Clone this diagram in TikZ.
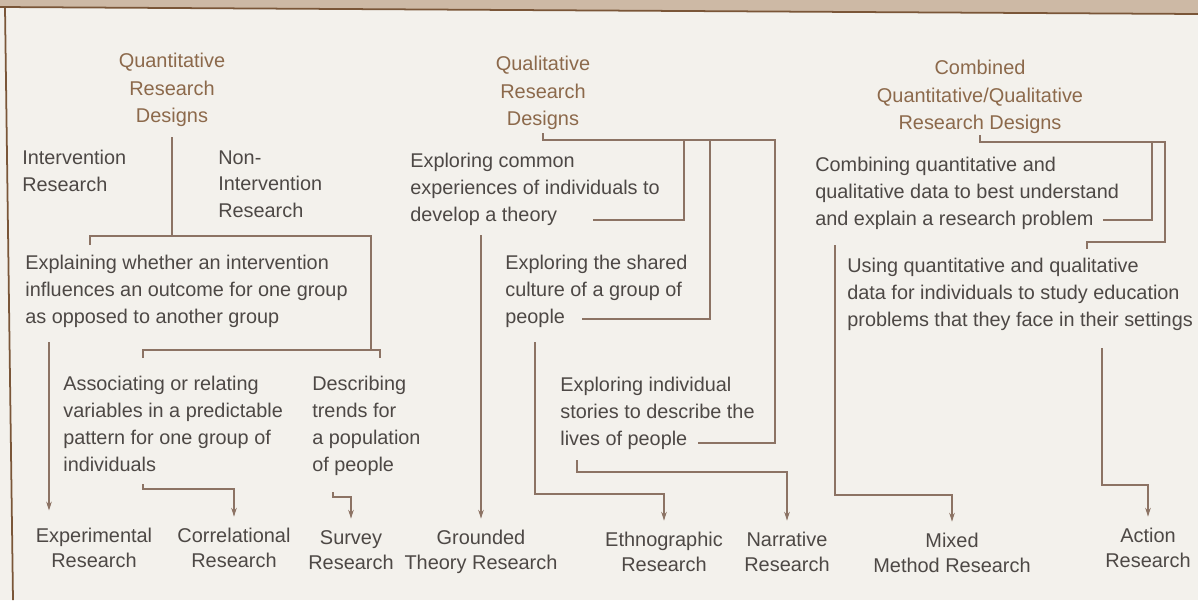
\documentclass[tikz,border=0pt]{standalone}
\usepackage{fontspec}
\setmainfont{Liberation Sans}
\usetikzlibrary{arrows.meta,calc}

\definecolor{paper}{HTML}{F3F1EC}
\definecolor{band}{HTML}{CDB9A5}
\definecolor{rim}{HTML}{7A5638}
\definecolor{headtext}{HTML}{8C694B}
\definecolor{bodytext}{HTML}{4D4845}
\definecolor{rule}{HTML}{8C7364}

\tikzset{
  heading/.style={inner sep=0pt, align=center, anchor=north, text=headtext,
    font=\fontsize{11.35}{15.7}\selectfont},
  item/.style={inner sep=0pt, align=left, anchor=north west, text=bodytext,
    font=\fontsize{11.3}{15.3}\selectfont},
  design/.style={inner sep=0pt, align=center, anchor=north, text=bodytext,
    font=\fontsize{11.35}{14.3}\selectfont},
  link/.style={draw=rule, line width=0.6pt},
  arrowlink/.style={link, -{Stealth[length=5pt,width=3.2pt]}, shorten >=6.5pt},
}

\begin{document}
\begin{tikzpicture}[x=0.02cm, y=-0.02cm]

    \useasboundingbox (0,0) rectangle (1198,600);

    % Paper, top band and left rim
    \fill[paper] (0,0) rectangle (1198,600);
    \fill[band] (0,0) -- (1198,0) -- (1198,14) -- (0,7) -- cycle;
    \draw[rim, line width=1pt] (0,7) -- (1198,14);
    \draw[rim, line width=1pt] (5,7) -- (13,600);

    % The three families of designs
    \node[heading] (quant) at (172,53) {Quantitative\\Research\\Designs};
    \node[heading] (qual) at (543,56) {Qualitative\\Research\\Designs};
    \node[heading] (combhd) at (980,60) {Combined\\Quantitative/Qualitative\\Research Designs};

    % Quantitative side
    \node[item] (interv) at (22,150) {Intervention\\Research};
    \node[item] (noninterv) at (218,150) {Non-\\Intervention\\Research};
    \node[item] (explain) at (25,255) {Explaining whether an intervention\\influences an outcome for one group\\as opposed to another group};
    \node[item] (assoc) at (63,376) {Associating or relating\\variables in a predictable\\pattern for one group of\\individuals};
    \node[item] (describe) at (312,376) {Describing\\trends for\\a population\\of people};

    % Qualitative side
    \node[item] (common) at (410,153) {Exploring common\\experiences of individuals to\\develop a theory};
    \node[item] (culture) at (505,255) {Exploring the shared\\culture of a group of\\people};
    \node[item] (stories) at (560,377) {Exploring individual\\stories to describe the\\lives of people};

    % Combined side
    \node[item] (combine) at (815,157) {Combining quantitative and\\qualitative data to best understand\\and explain a research problem};
    \node[item] (using) at (847,258) {Using quantitative and qualitative\\data for individuals to study education\\problems that they face in their settings};

    % The resulting designs
    \node[design] (experimental) at (94,528) {Experimental\\Research};
    \node[design] (correlational) at (234,528) {Correlational\\Research};
    \node[design] (survey) at (351,530) {Survey\\Research};
    \node[design] (grounded) at (481,530) {Grounded\\Theory Research};
    \node[design] (ethno) at (664,532) {Ethnographic\\Research};
    \node[design] (narrative) at (787,532) {Narrative\\Research};
    \node[design] (mixedm) at (952,533) {Mixed\\Method Research};
    \node[design] (action) at (1148,528) {Action\\Research};

    % Quantitative brackets and arrows
    \coordinate (qL) at (90,236);
    \coordinate (qR) at (371,236);
    \coordinate (nL) at (143,350);
    \coordinate (nR) at (380,350);
    \draw[link] (quant.south) ++(0,10) -- (quant.south |- qL);
    \draw[link] (qL) ++(0,9) -- (qL) -- (qR) -- (qR |- nL);
    \draw[link] (nL) ++(0,8) -- (nL) -- (nR) -- ++(0,8);

    \coordinate (expS) at (49,342);
    \draw[arrowlink, shorten >=10pt] (expS) -- (expS |- experimental.north);
    \coordinate (corS) at (143,484);
    \draw[arrowlink] (corS) -- ++(0,5) -| (correlational.north);
    \coordinate (surS) at (333,492);
    \draw[arrowlink] (surS) -- ++(0,5) -| (survey.north);

    % Qualitative brackets and arrows
    \coordinate (lR) at (775,140);
    \coordinate (theoryend) at (593,220);
    \coordinate (cultureend) at (582,319);
    \coordinate (storiesend) at (698,443);
    \draw[link] (qual.south) ++(0,3) -- (qual.south |- lR) -- (lR) |- (storiesend);
    \draw[link] (684,140) |- (theoryend);
    \draw[link] (710,140) |- (cultureend);

    \coordinate (grS) at (481,235);
    \draw[arrowlink] (grS) -- (grounded.north);
    \coordinate (ethS) at (535,342);
    \draw[arrowlink] (ethS) -- ++(0,152) -| (ethno.north);
    \coordinate (narS) at (577,460);
    \draw[arrowlink] (narS) -- ++(0,12) -| (narrative.north);

    % Combined brackets and arrows
    \coordinate (mR) at (1165,142);
    \coordinate (problemend) at (1103,220);
    \draw[link] (combhd.south) ++(0,1) -- (combhd.south |- mR) -- (mR) |- (1087,242) -- ++(0,7);
    \draw[link] (1152,142) |- (problemend);

    \coordinate (mixS) at (835,245);
    \draw[arrowlink] (mixS) -- ++(0,250) -| (mixedm.north);
    \coordinate (actS) at (1102,348);
    \draw[arrowlink] (actS) -- ++(0,137) -| (action.north);

\end{tikzpicture}
\end{document}
